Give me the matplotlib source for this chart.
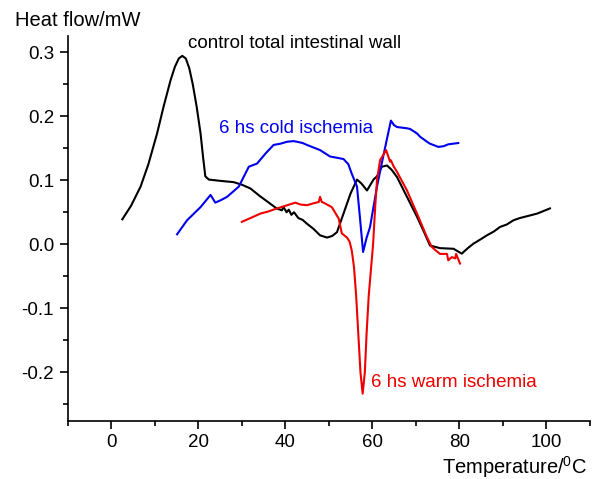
import matplotlib
matplotlib.use("Agg")
import matplotlib.pyplot as plt
from matplotlib.ticker import MultipleLocator

plt.rcParams['font.family'] = ['Liberation Sans', 'DejaVu Sans']
plt.rcParams['mathtext.fontset'] = 'custom'
plt.rcParams['mathtext.rm'] = 'Liberation Sans'

# control total intestinal wall (black)
control_t = [2.5, 4.5, 6.7, 8.5, 10.5, 12, 13.6, 14.6, 15.5, 16.3, 17.1, 17.9, 18.7,
             19.6, 20.5, 21.1, 21.6, 22.4, 25, 28.1, 30, 32, 34, 36, 38, 39.2, 39.6,
             40.3, 40.8, 41.4, 42, 43, 44, 45, 46.5, 48, 49.6, 50.8, 51.9, 53.4, 55,
             56.5, 57.5, 58.8, 60.3, 61.1, 62.2, 63.4, 64.5, 65.7, 68, 70.3, 72, 73.3,
             75.6, 78.7, 80.6, 82, 83.3, 85, 86.4, 88, 89.4, 91, 92.5, 94, 96.3, 98,
             100.9]
control_q = [0.039, 0.06, 0.09, 0.125, 0.173, 0.215, 0.256, 0.277, 0.29, 0.294, 0.29,
             0.275, 0.25, 0.215, 0.173, 0.135, 0.106, 0.101, 0.099, 0.097, 0.093, 0.087,
             0.076, 0.066, 0.056, 0.053, 0.058, 0.05, 0.054, 0.046, 0.05, 0.041, 0.038,
             0.032, 0.024, 0.014, 0.0105, 0.013, 0.019, 0.048, 0.079, 0.101, 0.095,
             0.084, 0.101, 0.106, 0.121, 0.123, 0.116, 0.105, 0.074, 0.043, 0.018,
             -0.002, -0.006, -0.007, -0.0146, -0.006, 0.001, 0.008, 0.014, 0.02, 0.027,
             0.031, 0.0375, 0.041, 0.045, 0.048, 0.056]

# 6 hs cold ischemia (blue)
cold_t = [15.1, 17.4, 20.5, 22.8, 23.9, 25.2, 26.6, 29.3, 31.6, 33.5, 35.5, 37.3, 38.9,
          40.4, 41.9, 42.7, 44, 45, 46.5, 48, 50.3, 51.9, 53.4, 54.5, 55.3, 56.5, 57.2,
          57.9, 58.7, 59.5, 61.1, 62, 63, 64.3, 65, 65.7, 68, 68.7, 70.3, 71, 72.6,
          73.3, 75.2, 76.4, 77.5, 79.8]
cold_q = [0.0156, 0.0375, 0.058, 0.077, 0.065, 0.069, 0.074, 0.09, 0.121, 0.126, 0.142,
          0.155, 0.157, 0.16, 0.161, 0.16, 0.158, 0.155, 0.151, 0.147, 0.137, 0.135,
          0.133, 0.125, 0.11, 0.09, 0.04, -0.012, 0.01, 0.027, 0.09, 0.12, 0.152, 0.193,
          0.186, 0.183, 0.181, 0.18, 0.173, 0.168, 0.16, 0.157, 0.152, 0.153, 0.156,
          0.158]

# 6 hs warm ischemia (red)
warm_t = [30, 32, 34.3, 36, 38.1, 40, 42.3, 43.5, 45, 46.5, 47.7, 48, 48.4, 48.8, 50.7,
          52.3, 53, 54.2, 54.8, 55.3, 55.8, 56.3, 56.8, 57.3, 57.8, 58.3, 58.7, 59.2,
          59.7, 60.2, 60.7, 61.1, 61.8, 63.2, 64.1, 64.3, 64.9, 65.7, 68, 70.3, 72.6,
          73.7, 74.5, 75.6, 77.2, 77.5, 78.3, 79.1, 79.3, 80.2]
warm_q = [0.035, 0.041, 0.048, 0.051, 0.056, 0.06, 0.065, 0.062, 0.061, 0.064, 0.066,
          0.074, 0.066, 0.065, 0.058, 0.04, 0.017, 0.0105, 0.004, -0.01, -0.035, -0.08,
          -0.14, -0.2, -0.233, -0.2, -0.14, -0.08, -0.04, 0.0, 0.06, 0.1, 0.131, 0.147,
          0.129, 0.131, 0.122, 0.113, 0.084, 0.048, 0.011, -0.004, -0.009, -0.015,
          -0.015, -0.025, -0.02, -0.022, -0.015, -0.03]

fig = plt.figure(figsize=(6.06, 4.79), dpi=100)
ax = fig.add_axes([0.1122, 0.1221, 0.8606, 0.8027])

ax.plot(control_t, control_q, color='black', lw=1.5)
ax.plot(cold_t, cold_q, color='#0000ee', lw=1.5)
ax.plot(warm_t, warm_q, color='#ee0000', lw=1.5)

ax.set_xlim(-10, 110)
ax.set_ylim(-0.275, 0.325)
ax.xaxis.set_major_locator(MultipleLocator(20))
ax.xaxis.set_minor_locator(MultipleLocator(10))
ax.yaxis.set_major_locator(MultipleLocator(0.1))
ax.yaxis.set_minor_locator(MultipleLocator(0.05))
ax.yaxis.set_major_formatter(plt.FuncFormatter(lambda v, p: f"{v:.1f}".replace("-0.0", "0.0")))

for s in ['top', 'right']:
    ax.spines[s].set_visible(False)
for s in ['left', 'bottom']:
    ax.spines[s].set_linewidth(1.2)
ax.tick_params(which='major', direction='out', length=6, width=1.2, labelsize=13.5, pad=4)
ax.tick_params(which='minor', direction='out', length=3.5, width=1.2)

ax.text(17.6, 0.314, 'control total intestinal wall', fontsize=13.5, color='black',
        ha='left', va='center')
ax.text(24.7, 0.181, '6 hs cold ischemia', fontsize=13.5, color='#0000ee',
        ha='left', va='center')
ax.text(59.8, -0.215, '6 hs warm ischemia', fontsize=13.5, color='#ee0000',
        ha='left', va='center')

fig.text(0.0248, 0.957, 'Heat flow/mW', fontsize=14.5, ha='left', va='center')
fig.text(0.968, 0.025, 'Temperature/$^{0}$C', fontsize=14.5, ha='right', va='center')

fig.savefig('out.png', dpi=100)
